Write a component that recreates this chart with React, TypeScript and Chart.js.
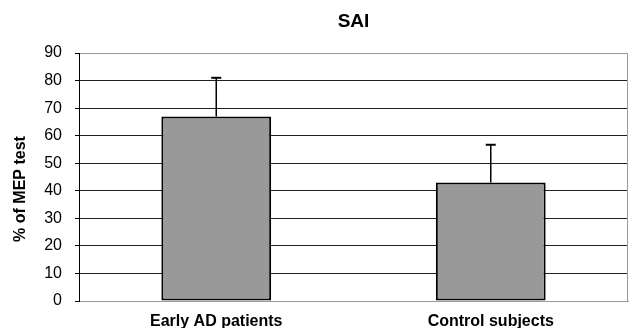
import React, { useEffect, useRef } from 'react';
import { Chart, registerables } from 'chart.js';

Chart.register(...registerables);

const chartTitle = 'SAI';
const yAxisTitle = '% of MEP test';
const categories = ['Early AD patients', 'Control subjects'];
const meanValues = [67, 43];
const errorValues = [14, 13.7];
const yMin = 0;
const yMax = 90;
const yStep = 10;

const FONT = '"Liberation Sans", Arial, Helvetica, sans-serif';

const errorBarPlugin = {
  id: 'errorBars',
  afterDatasetsDraw(chart: any) {
    const meta = chart.getDatasetMeta(0);
    const yScale = chart.scales.y;
    const ctx = chart.ctx;
    ctx.save();
    ctx.strokeStyle = '#000';
    meta.data.forEach((bar: any, i: number) => {
      const top = yScale.getPixelForValue(meanValues[i] + errorValues[i]);
      ctx.lineWidth = 1.5;
      ctx.beginPath();
      ctx.moveTo(bar.x, bar.y);
      ctx.lineTo(bar.x, top);
      ctx.stroke();
      ctx.lineWidth = 2;
      ctx.beginPath();
      ctx.moveTo(bar.x - 5, top);
      ctx.lineTo(bar.x + 5, top);
      ctx.stroke();
    });
    ctx.restore();
  },
};

const framePlugin = {
  id: 'frameAndTitles',
  beforeDatasetsDraw(chart: any) {
    const { ctx, chartArea } = chart;
    ctx.save();
    ctx.strokeStyle = '#999';
    ctx.lineWidth = 1;
    ctx.beginPath();
    ctx.moveTo(chartArea.right - 0.5, chartArea.top);
    ctx.lineTo(chartArea.right - 0.5, chartArea.bottom);
    ctx.stroke();
    ctx.restore();
  },
  afterDraw(chart: any) {
    const { ctx, chartArea } = chart;
    ctx.save();
    ctx.fillStyle = '#000';
    ctx.textAlign = 'center';
    ctx.textBaseline = 'middle';
    ctx.font = `bold 19px ${FONT}`;
    ctx.fillText(chartTitle, (chartArea.left + chartArea.right) / 2, chartArea.top - 31);
    ctx.translate(21, (chartArea.top + chartArea.bottom) / 2 + 12);
    ctx.rotate(-Math.PI / 2);
    ctx.font = `bold 16px ${FONT}`;
    ctx.fillText(yAxisTitle, 0, 0);
    ctx.restore();
  },
};

export default function App() {
  const canvasRef = useRef<HTMLCanvasElement | null>(null);

  useEffect(() => {
    if (!canvasRef.current) return;
    const chart = new Chart(canvasRef.current, {
      type: 'bar',
      data: {
        labels: categories,
        datasets: [
          {
            data: meanValues,
            backgroundColor: '#999999',
            borderColor: '#000000',
            borderWidth: 2,
            borderSkipped: false,
            barPercentage: 0.4,
            categoryPercentage: 1,
          },
        ],
      },
      options: {
        responsive: false,
        animation: false,
        layout: { padding: { top: 53, right: 1, left: 0, bottom: 0 } },
        plugins: {
          legend: { display: false },
          title: { display: false },
          tooltip: { enabled: false },
        },
        scales: {
          x: {
            grid: { display: false },
            border: { display: true, color: '#999', width: 1 },
            ticks: {
              color: '#000',
              padding: 3,
              font: { family: FONT, size: 16, weight: 'bold' },
            },
            afterFit(scale: any) {
              scale.height = 27;
            },
          },
          y: {
            min: yMin,
            max: yMax,
            grid: {
              color: (c: any) =>
                c.tick && (c.tick.value === yMax || c.tick.value === yMin) ? '#999' : '#222',
              tickColor: '#000',
              tickLength: 4,
              lineWidth: 1,
            },
            border: { display: true, color: '#000', width: 1 },
            ticks: {
              stepSize: yStep,
              color: '#000',
              padding: 13,
              font: { family: FONT, size: 16 },
            },
            afterFit(scale: any) {
              scale.width = 79;
            },
          },
        },
      },
      plugins: [errorBarPlugin, framePlugin],
    });
    return () => chart.destroy();
  }, []);

  return (
    <canvas
      ref={canvasRef}
      width={629}
      height={328}
      style={{ position: 'absolute', left: 0, top: 0, display: 'block', background: '#fff' }}
    />
  );
}
